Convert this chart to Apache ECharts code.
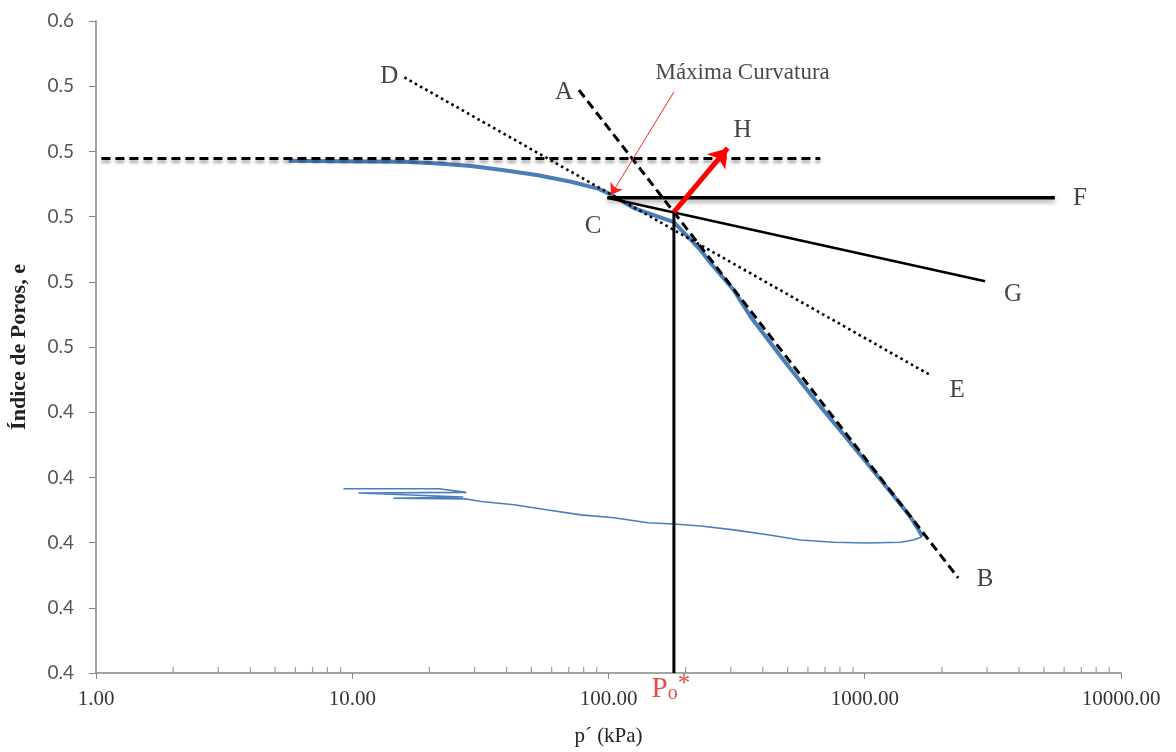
<!DOCTYPE html>
<html><head><meta charset="utf-8">
<script src="https://cdn.jsdelivr.net/npm/echarts@6/dist/echarts.min.js"></script>
<style>html,body{margin:0;padding:0;background:#fff}#c{width:1176px;height:752px}</style>
</head><body><div id="c"></div>
<script>
// ---- tick labels ----
const yTickLabels = ['0.4','0.4','0.4','0.4','0.4','0.5','0.5','0.5','0.5','0.5','0.6'];
const xTickLabels = ['1.00','10.00','100.00','1000.00','10000.00'];
const minorTicks = [2,3,4,5,6,7,8,9,20,30,40,50,60,70,80,90,200,300,400,500,600,700,800,900,2000,3000,4000,5000,6000,7000,8000,9000];

// ---- measured curve (p' kPa, e) ----
const loadingP = [5.65, 8.84, 15.97, 21.66, 29.12, 39.14, 53.1, 71.4, 90.9, 99.5, 125.6, 179.8, 228.9, 250.5, 307.8, 358.5, 482, 653.8, 878.9, 1181, 1505, 1647, 1676];
const loadingE = [0.5571, 0.5570, 0.5568, 0.5563, 0.5555, 0.5542, 0.5527, 0.5507, 0.5486, 0.5472, 0.5426, 0.5383, 0.5297, 0.5257, 0.5175, 0.5093, 0.4960, 0.4828, 0.4706, 0.4583, 0.4480, 0.4430, 0.4418];
const unloadingP = [1676, 1547, 1376, 1024, 755, 561, 418, 308, 229, 180, 142.4, 105, 78.1, 58.1, 42.8, 31.85, 27.85, 14.47, 27.1, 10.57, 27.85, 21.85, 9.24];
const unloadingE = [0.4418, 0.4408, 0.4401, 0.4399, 0.4401, 0.4408, 0.4424, 0.4439, 0.4451, 0.4457, 0.4461, 0.4476, 0.4485, 0.4500, 0.4516, 0.4526, 0.4534, 0.4536, 0.4540, 0.4552, 0.4554, 0.4565, 0.4565];

// ---- construction lines ----
const horizP = [1.05, 671];       const horizE = [0.5578, 0.5578];
const lineAB_P = [76.7, 2315];    const lineAB_E = [0.5788, 0.4292];
const lineDE_P = [15.97, 1801];   const lineDE_E = [0.5827, 0.4914];
const lineCF_P = [99.0, 5520];    const lineCF_E = [0.5458, 0.5458];
const lineCG_P = [99.0, 2949];    const lineCG_E = [0.5458, 0.5202];
const vertP = [180, 180];         const vertE = [0.40, 0.5414];
const arrowH_P = [180, 291.7];    const arrowH_E = [0.5414, 0.5610];
const arrowMC_P = [179.8, 102.2]; const arrowMC_E = [0.5782, 0.5466];

// ---- annotations ----
const pointLabels = ['A','B','C','D','E','F','G','H'];
const labelP = [67.0, 2949, 87.0, 13.96, 2294, 6912, 3791, 333.8];
const labelE = [0.5782, 0.4286, 0.5371, 0.5831, 0.4868, 0.5456, 0.5162, 0.5665];
const noteText = 'Máxima Curvatura'; const noteP = 333.8; const noteE = 0.5840;

const zip = (a, b) => a.map((v, i) => [v, b[i]]);
const SERIF = '"Liberation Serif", "Times New Roman", serif';

function seg(P, E, style) {
  return { type: 'line', data: zip(P, E), showSymbol: false, symbol: 'none', silent: true,
    lineStyle: style, z: 3 };
}
function arrow(P, E, color, width, size) {
  return { type: 'line', data: zip(P, E), showSymbol: false, symbol: 'none', silent: true,
    lineStyle: { opacity: 0 }, z: 5,
    markLine: { silent: true, animation: false, symbol: ['none', 'arrow'], symbolSize: size,
      label: { show: false }, lineStyle: { color: color, width: width, type: 'solid' },
      emphasis: { disabled: true },
      data: [[{ coord: [P[0], E[0]] }, { coord: [P[1], E[1]] }]] } };
}

const chart = echarts.init(document.getElementById('c'), null, { renderer: 'canvas' });
chart.setOption({
  animation: false,
  backgroundColor: '#fff',
  grid: { left: 94, right: 55, top: 21, bottom: 79, containLabel: false },
  xAxis: {
    type: 'log', logBase: 10, min: 1, max: 10000,
    name: 'p´ (kPa)', nameLocation: 'middle', nameGap: 53,
    nameTextStyle: { fontFamily: SERIF, fontSize: 21, color: '#222' },
    axisLine: { lineStyle: { color: '#868686', width: 1.5 } },
    axisTick: { show: true, length: 6, lineStyle: { color: '#868686' } },
    splitLine: { show: false },
    axisLabel: { margin: 16, fontFamily: SERIF, fontSize: 21, color: '#333',
      formatter: v => xTickLabels[Math.round(Math.log10(v))] }
  },
  yAxis: {
    type: 'value', min: 0.40, max: 0.60, interval: 0.02,
    name: 'Índice de Poros, e', nameLocation: 'middle', nameGap: 66, nameRotate: 90,
    nameTextStyle: { fontFamily: SERIF, fontSize: 22, fontWeight: 'bold', color: '#222' },
    axisLine: { show: true, lineStyle: { color: '#868686', width: 1.5 } },
    axisTick: { show: true, length: 7, lineStyle: { color: '#868686' } },
    splitLine: { show: false },
    axisLabel: { margin: 22, fontFamily: 'Lato, "Liberation Sans", sans-serif', fontSize: 19, color: '#555',
      formatter: v => yTickLabels[Math.round((v - 0.40) / 0.02)] }
  },
  series: [
    { type: 'scatter', data: minorTicks.map(v => [v, 0.40]), symbol: 'rect', symbolSize: [1.2, 6],
      symbolOffset: [0, -3], itemStyle: { color: '#868686' }, silent: true, clip: false, z: 1 },
    { type: 'line', data: zip(loadingP, loadingE), showSymbol: false, symbol: 'none', silent: true,
      lineStyle: { color: '#4a7ebb', width: 4 }, z: 2 },
    { type: 'line', data: zip(unloadingP, unloadingE), showSymbol: false, symbol: 'none', silent: true,
      lineStyle: { color: '#4a7ebb', width: 1.6 }, z: 2 },
    seg(horizP, horizE, { color: '#000', width: 3, type: [9, 5], shadowColor: 'rgba(0,0,0,0.35)', shadowBlur: 3, shadowOffsetY: 3 }),
    seg(lineAB_P, lineAB_E, { color: '#000', width: 3, type: [9, 5] }),
    seg(lineDE_P, lineDE_E, { color: '#000', width: 2.6, type: [2.6, 3.4] }),
    seg(lineCF_P, lineCF_E, { color: '#000', width: 3.5, shadowColor: 'rgba(0,0,0,0.35)', shadowBlur: 4, shadowOffsetY: 3 }),
    seg(lineCG_P, lineCG_E, { color: '#000', width: 2.6 }),
    seg(vertP, vertE, { color: '#000', width: 3 }),
    arrow(arrowH_P, arrowH_E, '#ff0000', 5, 18),
    arrow(arrowMC_P, arrowMC_E, '#ff2020', 1, 11),
    { type: 'scatter', silent: true, clip: false, symbolSize: 1, itemStyle: { color: 'rgba(0,0,0,0)' }, z: 6,
      data: pointLabels.map((n, i) => ({ name: n, value: [labelP[i], labelE[i]] })),
      label: { show: true, position: 'inside', formatter: p => p.name, fontFamily: SERIF, fontSize: 25, color: '#111' } },
    { type: 'scatter', silent: true, clip: false, symbolSize: 1, itemStyle: { color: 'rgba(0,0,0,0)' }, z: 6,
      data: [{ name: noteText, value: [noteP, noteE] }],
      label: { show: true, position: 'inside', formatter: p => p.name, fontFamily: SERIF, fontSize: 23, color: '#1a1a1a' } },
    { type: 'scatter', silent: true, clip: false, symbolSize: 1, itemStyle: { color: 'rgba(0,0,0,0)' }, z: 6,
      data: [{ name: 'Po*', value: [vertP[0], vertE[0]] }],
      label: { show: true, position: 'bottom', distance: 0, offset: [-3, -2], formatter: '{p|P}{o|o}{s|*}',
        rich: {
          p: { fontFamily: SERIF, fontSize: 29, color: '#e0201b', verticalAlign: 'bottom', lineHeight: 32 },
          o: { fontFamily: SERIF, fontSize: 20, color: '#e0201b', verticalAlign: 'bottom', lineHeight: 32 },
          s: { fontFamily: SERIF, fontSize: 25, color: '#e0201b', verticalAlign: 'top', lineHeight: 32 }
        } } }
  ]
});
</script>
</body></html>
